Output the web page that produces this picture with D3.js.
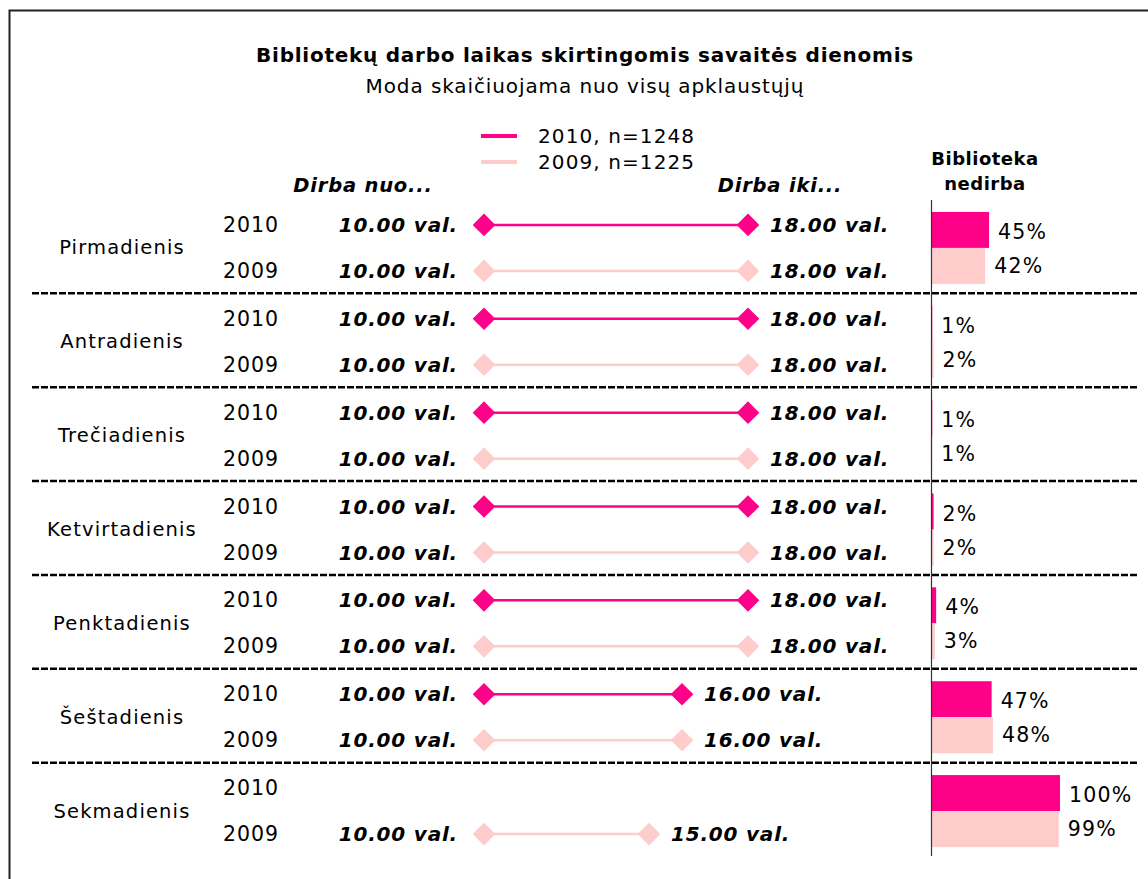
<!DOCTYPE html>
<html><head><meta charset="utf-8">
<script src="https://cdn.jsdelivr.net/npm/d3@7"></script>
<style>body{margin:0;background:#fff}svg{display:block}text{font-family:"DejaVu Sans",Verdana,sans-serif;fill:#000}</style>
</head><body>
<script>
const days = ["Pirmadienis","Antradienis","Trečiadienis","Ketvirtadienis","Penktadienis","Šeštadienis","Sekmadienis"];
const years = ["2010","2009"];
const legendLabels = ["2010, n=1248","2009, n=1225"];
const start2010 = [10,10,10,10,10,10,null];
const end2010   = [18,18,18,18,18,16,null];
const start2009 = [10,10,10,10,10,10,10];
const end2009   = [18,18,18,18,18,16,15];
const closed2010 = [45,1,1,2,4,47,100];
const closed2009 = [42,2,1,2,3,48,99];
const fmt = v => v.toFixed(2) + " val.";

const W = 1148, H = 879;
const colors = {"2010":"#FF0088","2009":"#FFCCCC"};
const svg = d3.select("body").append("svg").attr("width",W).attr("height",H);

// frame
svg.append("path").attr("d",`M9.5,${H+5}V10.5H${W+5}`).attr("fill","none").attr("stroke","#222").attr("stroke-width",2);

// title
svg.append("text").attr("x",585).attr("y",62).attr("text-anchor","middle").attr("font-weight","bold").attr("font-size",20)
  .attr("letter-spacing",0.75).text("Bibliotekų darbo laikas skirtingomis savaitės dienomis");
svg.append("text").attr("x",585).attr("y",93).attr("text-anchor","middle").attr("font-size",20)
  .attr("letter-spacing",0.9).text("Moda skaičiuojama nuo visų apklaustųjų");

// legend
years.forEach((yr,i)=>{
  const ly = 136 + i*26;
  svg.append("line").attr("x1",481).attr("x2",517).attr("y1",ly).attr("y2",ly).attr("stroke",colors[yr]).attr("stroke-width",4);
  svg.append("text").attr("x",538).attr("y",ly).attr("dominant-baseline","central").attr("font-size",20)
    .attr("letter-spacing",1.1).text(legendLabels[i]);
});

// headers
const hdr = (tx,xx,yy,opts)=>svg.append("text").attr("x",xx).attr("y",yy).attr("text-anchor","middle").attr("dominant-baseline","central")
  .attr("font-weight","bold").attr("font-style",opts.it?"italic":"normal").attr("font-size",opts.fs).attr("letter-spacing",opts.ls).text(tx);
hdr("Dirba nuo...",363,185,{it:true,fs:19.5,ls:0.8});
hdr("Dirba iki...",780,185,{it:true,fs:19.5,ls:0.8});
hdr("Biblioteka",985,158,{it:false,fs:18,ls:0.5});
hdr("nedirba",985,183,{it:false,fs:18,ls:0.5});

// scales
const x = d3.scaleLinear().domain([10,18]).range([484,748]);
const xb = d3.scaleLinear().domain([0,100]).range([931,1060]);
const y = d3.scaleBand().domain(days).range([201,858]).padding(0);
const yRow = d3.scaleBand().domain(years).range([-46,46]).padding(0);
const rowC = (d,yr) => y(d) + y.bandwidth()/2 + yRow(yr) + yRow.bandwidth()/2;

// separators
days.slice(0,-1).forEach(d=>{
  const sy = y(d)+y.bandwidth()-1.5;
  svg.append("line").attr("x1",32).attr("x2",1138).attr("y1",sy).attr("y2",sy)
    .attr("stroke","#000").attr("stroke-width",2.5).attr("stroke-dasharray","7,2");
});

const data = {"2010":{s:start2010,e:end2010,c:closed2010},"2009":{s:start2009,e:end2009,c:closed2009}};
const diamond = d3.symbol().type(d3.symbolSquare).size(16*16);

days.forEach((d,i)=>{
  const gc = y(d)+y.bandwidth()/2;
  svg.append("text").attr("x",122).attr("y",gc).attr("text-anchor","middle").attr("dominant-baseline","central")
    .attr("font-size",19.5).attr("letter-spacing",1.15).text(d);
  years.forEach(yr=>{
    const cy = rowC(d,yr);
    const D = data[yr];
    svg.append("text").attr("x",251).attr("y",cy).attr("text-anchor","middle").attr("dominant-baseline","central")
      .attr("font-size",20.5).attr("letter-spacing",1).text(yr);
    if(D.s[i]!=null){
      svg.append("line").attr("x1",x(D.s[i])).attr("x2",x(D.e[i])).attr("y1",cy).attr("y2",cy)
        .attr("stroke",colors[yr]).attr("stroke-width",2.5);
      [D.s[i],D.e[i]].forEach(v=>{
        svg.append("path").attr("d",diamond).attr("transform",`translate(${x(v)},${cy}) rotate(45)`).attr("fill",colors[yr]);
      });
      svg.append("text").attr("x",x(D.s[i])-26).attr("y",cy).attr("text-anchor","end").attr("dominant-baseline","central")
        .attr("font-weight","bold").attr("font-style","italic").attr("font-size",20).attr("letter-spacing",0.8).text(fmt(D.s[i]));
      svg.append("text").attr("x",x(D.e[i])+22).attr("y",cy).attr("dominant-baseline","central")
        .attr("font-weight","bold").attr("font-style","italic").attr("font-size",20).attr("letter-spacing",0.8).text(fmt(D.e[i]));
    }
    const bh = 36;
    const by = gc + (yr==="2010" ? -bh : 0);
    svg.append("rect").attr("x",xb(0)).attr("y",by).attr("width",xb(D.c[i])-xb(0)).attr("height",bh).attr("fill",colors[yr]);
    svg.append("text").attr("x",xb(D.c[i])+9).attr("y",by+bh/2+(yr==="2010"?2:0)).attr("dominant-baseline","central")
      .attr("font-size",20.5).attr("letter-spacing",1.2).text(D.c[i]+"%");
  });
});

// bar axis
svg.append("line").attr("x1",931.5).attr("x2",931.5).attr("y1",200).attr("y2",856).attr("stroke","#333").attr("stroke-width",1.2);
</script>
</body></html>
